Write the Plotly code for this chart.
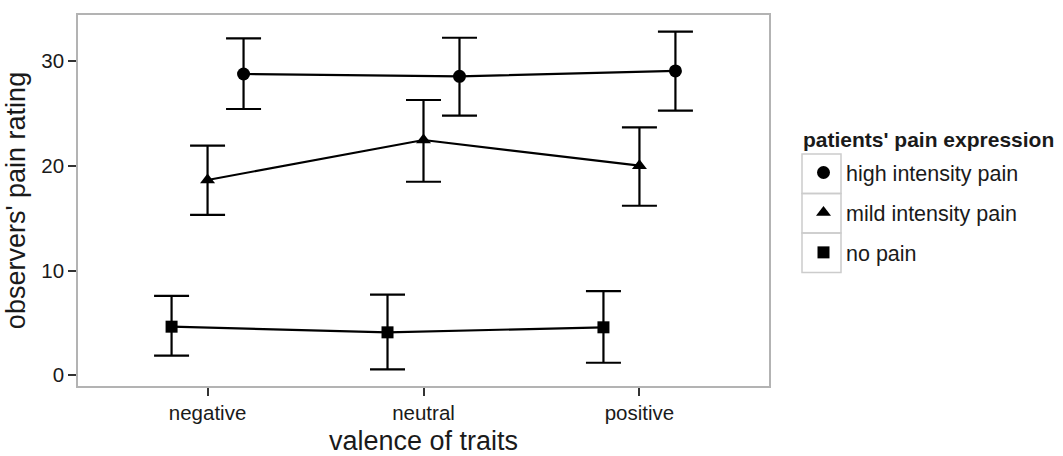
import numpy as np
import plotly.graph_objects as go

categories = ["negative", "neutral", "positive"]
series_names = ["high intensity pain", "mild intensity pain", "no pain"]
symbols = ["circle", "triangle-up", "square"]
legend_title = "patients' pain expression"

high_mean = [28.75, 28.53, 29.04]
high_upper = [32.15, 32.21, 32.79]
high_lower = [25.41, 24.77, 25.25]

mild_mean = [18.64, 22.45, 20.00]
mild_upper = [21.91, 26.27, 23.66]
mild_lower = [15.30, 18.47, 16.18]

none_mean = [4.64, 4.10, 4.58]
none_upper = [7.57, 7.69, 8.04]
none_lower = [1.87, 0.57, 1.20]

means = [high_mean, mild_mean, none_mean]
uppers = [high_upper, mild_upper, none_upper]
lowers = [high_lower, mild_lower, none_lower]
dodge = [1 / 6, 0.0, -1 / 6]

FONT = "Liberation Sans, Arial, Helvetica, sans-serif"
TXT = "#1a1a1a"

fig = go.Figure()
base = np.arange(1, len(categories) + 1)
for name, sym, m, u, lo, d in zip(series_names, symbols, means, uppers, lowers, dodge):
    m = np.array(m); u = np.array(u); lo = np.array(lo)
    x = base + d
    fig.add_trace(go.Scatter(x=x, y=m, mode="lines", line=dict(color="black", width=2.2),
                             showlegend=False, hoverinfo="skip"))
    fig.add_trace(go.Scatter(
        x=x, y=m, mode="markers", name=name, legendgroup=name,
        marker=dict(symbol=sym, size=13 if sym != "square" else 12, color="black"),
        error_y=dict(type="data", symmetric=False, array=u - m, arrayminus=m - lo,
                     color="black", thickness=2.2, width=17.5),
    ))

# legend key boxes (ggplot style)
L, R, T, B = 78, 769, 15, 386
W, H = R - L, B - T
def px_x(p): return (p - L) / W
def px_y(p): return (B - p) / H
row_edges = [154, 193.5, 233, 272.5]
for i in range(3):
    fig.add_shape(type="rect", xref="paper", yref="paper",
                  x0=px_x(802), x1=px_x(841), y0=px_y(row_edges[i + 1]), y1=px_y(row_edges[i]),
                  line=dict(color="#cccccc", width=1.5), fillcolor="rgba(0,0,0,0)", layer="below")

fig.add_annotation(text="<b>" + legend_title + "</b>", xref="paper", yref="paper",
                   x=px_x(801), y=px_y(139), xanchor="left", yanchor="middle",
                   showarrow=False, font=dict(size=21, color=TXT))

fig.update_layout(
    width=1063, height=456,
    margin=dict(l=L, r=1063 - R, t=T, b=456 - B, autoexpand=False),
    paper_bgcolor="white", plot_bgcolor="white",
    font=dict(family=FONT, color=TXT, size=21),
    xaxis=dict(range=[0.4, 3.6], tickvals=base, ticktext=categories, showgrid=False, zeroline=False,
               showline=True, mirror=True, linecolor="#b3b3b3", linewidth=1.5, automargin=False,
               ticks="outside", ticklen=8, tickwidth=2, tickcolor="#333333",
               tickfont=dict(size=20.5, color=TXT),
               title=dict(text="valence of traits", font=dict(size=27, color=TXT), standoff=10)),
    yaxis=dict(range=[-1.02, 34.38], tickvals=[0, 10, 20, 30], showgrid=False, zeroline=False,
               showline=True, mirror=True, linecolor="#b3b3b3", linewidth=1.5, automargin=False,
               ticks="outside", ticklen=8, tickwidth=2, tickcolor="#333333",
               tickfont=dict(size=20.5, color=TXT),
               title=dict(text="observers' pain rating", font=dict(size=27, color=TXT), standoff=8)),
    legend=dict(
        x=px_x(801), xanchor="left", y=px_y(152), yanchor="top",
        font=dict(size=21.5, color=TXT), tracegroupgap=9, bgcolor="rgba(0,0,0,0)",
        itemwidth=35,
    ),
)

fig.write_html("out.html", config={"displayModeBar": False},
               post_script="document.body.style.margin='0';document.body.style.overflow='hidden';")
